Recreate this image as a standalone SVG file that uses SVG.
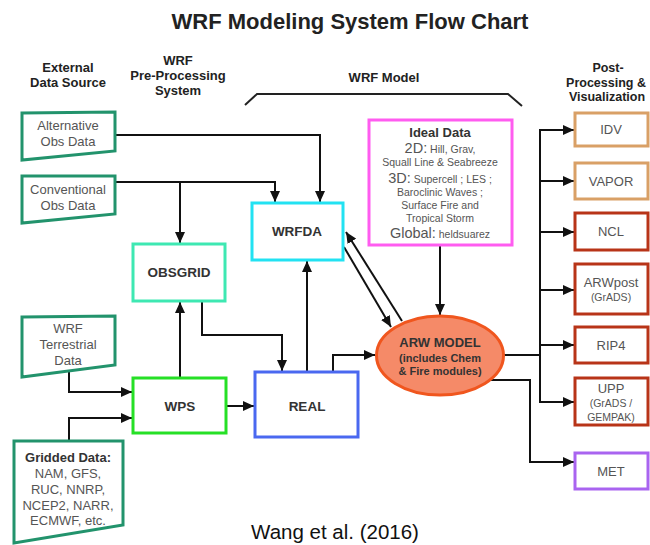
<svg xmlns="http://www.w3.org/2000/svg" width="650" height="545" viewBox="0 0 650 545">
<defs>
<style>
text{font-family:"Liberation Sans",Arial,sans-serif;text-anchor:middle}
.title{font-size:22px;font-weight:bold;fill:#222}
.hdr{font-size:13px;font-weight:bold;fill:#222}
.t{font-size:13px;fill:#555}
.b{font-size:13.5px;font-weight:bold;fill:#333}
.s{font-size:10.5px;fill:#555}
.big{font-size:14.5px;fill:#555}
.src{fill:#fff;stroke:#22936c;stroke-width:3}
.box{fill:#fff;stroke-width:3}
.con{fill:none;stroke:#111;stroke-width:2}
</style>
<marker id="ah" markerUnits="userSpaceOnUse" markerWidth="11" markerHeight="10" refX="11" refY="5" orient="auto">
<path d="M0,0 L11,5 L0,10 z" fill="#111"/>
</marker>
</defs>
<rect width="650" height="545" fill="#fff"/>
<text class="title" x="350" y="29">WRF Modeling System Flow Chart</text>
<g id="headers">
<text class="hdr" x="68" y="72">External</text>
<text class="hdr" x="68" y="87">Data Source</text>
<text class="hdr" x="178" y="65">WRF</text>
<text class="hdr" x="178" y="80">Pre-Processing</text>
<text class="hdr" x="178" y="95">System</text>
<text class="hdr" x="384" y="82">WRF Model</text>
<text class="hdr" x="608" y="72" style="font-size:12.5px">Post-</text>
<text class="hdr" x="606" y="87" style="font-size:12.5px">Processing &amp;</text>
<text class="hdr" x="607" y="101" style="font-size:12.5px">Visualization</text>
<path d="M245,105 L257,94 H508 L522,106" fill="none" stroke="#222" stroke-width="2"/>
</g>
<g id="connectors">
<path class="con" d="M115,135 H320 V202" marker-end="url(#ah)"/>
<path class="con" d="M115,182 H275 V202" marker-end="url(#ah)"/>
<path class="con" d="M180,182 V243" marker-end="url(#ah)"/>
<path class="con" d="M69,372 V392 H132" marker-end="url(#ah)"/>
<path class="con" d="M69,440 V418 H132" marker-end="url(#ah)"/>
<path class="con" d="M180,377 V302" marker-end="url(#ah)"/>
<path class="con" d="M202,302 V335 H282 V371" marker-end="url(#ah)"/>
<path class="con" d="M227,406 H254" marker-end="url(#ah)"/>
<path class="con" d="M307,371 V261" marker-end="url(#ah)"/>
<path class="con" d="M333,371 V355 H375" marker-end="url(#ah)"/>
<path class="con" d="M440,246 V315" marker-end="url(#ah)"/>
<path class="con" d="M402,321 L346,232" marker-end="url(#ah)"/>
<path class="con" d="M344,247 L391,327" marker-end="url(#ah)"/>
<path class="con" d="M504,355 H540"/>
<path class="con" d="M540,402 V130"/>
<path class="con" d="M539,130 H574" marker-end="url(#ah)"/>
<path class="con" d="M540,181 H574" marker-end="url(#ah)"/>
<path class="con" d="M540,232 H574" marker-end="url(#ah)"/>
<path class="con" d="M540,290 H574" marker-end="url(#ah)"/>
<path class="con" d="M540,345 H574" marker-end="url(#ah)"/>
<path class="con" d="M539,402 H574" marker-end="url(#ah)"/>
<path class="con" d="M490,380 H530 V462 H574" marker-end="url(#ah)"/>
</g>
<g id="alt-obs">
<polygon class="src" points="22,113 115,112 115,151 22,160"/>
<text class="t" x="68" y="130">Alternative</text>
<text class="t" x="68" y="146">Obs Data</text>
</g>
<g id="conv-obs">
<polygon class="src" points="22,176 115,176 115,214 22,223"/>
<text class="t" x="68" y="194">Conventional</text>
<text class="t" x="68" y="210">Obs Data</text>
</g>
<g id="terrestrial">
<polygon class="src" points="22,317 115,316 115,365 22,377"/>
<text class="t" x="68" y="333">WRF</text>
<text class="t" x="68" y="349">Terrestrial</text>
<text class="t" x="68" y="365">Data</text>
</g>
<g id="gridded">
<polygon class="src" points="14,441 123,441 123,525 14,543"/>
<text class="t" x="68" y="462" style="font-weight:bold;fill:#333">Gridded Data:</text>
<text class="t" x="68" y="478">NAM, GFS,</text>
<text class="t" x="68" y="494">RUC, NNRP,</text>
<text class="t" x="68" y="510">NCEP2, NARR,</text>
<text class="t" x="68" y="525">ECMWF, etc.</text>
</g>
<g id="obsgrid">
<rect class="box" x="133" y="244" width="92" height="57" stroke="#3ee8b2"/>
<text class="b" x="179" y="277">OBSGRID</text>
</g>
<g id="wps">
<rect class="box" x="133" y="378" width="93" height="55" stroke="#26e026"/>
<text class="b" x="180" y="411">WPS</text>
</g>
<g id="wrfda">
<rect class="box" x="252" y="203" width="91" height="57" stroke="#22e2f2"/>
<text class="b" x="297" y="236">WRFDA</text>
</g>
<g id="real">
<rect class="box" x="255" y="372" width="103" height="65" stroke="#4a68f0"/>
<text class="b" x="307" y="411">REAL</text>
</g>
<g id="ideal">
<rect class="box" x="369" y="120" width="143" height="125" stroke="#ff5cf0"/>
<text class="b" x="440" y="137" style="font-size:13px">Ideal Data</text>
<text class="s" x="440" y="153"><tspan class="big">2D:</tspan> Hill, Grav,</text>
<text class="s" x="440" y="166">Squall Line &amp; Seabreeze</text>
<text class="s" x="440" y="183"><tspan class="big">3D:</tspan> Supercell ; LES ;</text>
<text class="s" x="440" y="196">Baroclinic Waves ;</text>
<text class="s" x="440" y="209">Surface Fire and</text>
<text class="s" x="440" y="222">Tropical Storm</text>
<text class="s" x="440" y="238"><tspan class="big">Global:</tspan> heldsuarez</text>
</g>
<g id="arw">
<ellipse cx="440" cy="355.5" rx="63.5" ry="39.5" fill="#f58a68" stroke="#f0561e" stroke-width="3"/>
<text x="440" y="347" style="font-size:13px;font-weight:bold;fill:#333">ARW MODEL</text>
<text x="440" y="362" style="font-size:11px;font-weight:bold;fill:#333">(includes Chem</text>
<text x="440" y="375" style="font-size:11px;font-weight:bold;fill:#333">&amp; Fire modules)</text>
</g>
<g id="idv">
<rect class="box" x="575" y="113" width="73" height="33" stroke="#d9a066"/>
<text class="t" x="611" y="134">IDV</text>
</g>
<g id="vapor">
<rect class="box" x="575" y="163" width="73" height="36" stroke="#d9a066"/>
<text class="t" x="611" y="186">VAPOR</text>
</g>
<g id="ncl">
<rect class="box" x="575" y="213" width="73" height="37" stroke="#b83418"/>
<text class="t" x="611" y="236">NCL</text>
</g>
<g id="arwpost">
<rect class="box" x="575" y="264" width="73" height="50" stroke="#b83418"/>
<text class="t" x="611" y="287">ARWpost</text>
<text class="s" x="611" y="301">(GrADS)</text>
</g>
<g id="rip4">
<rect class="box" x="575" y="327" width="73" height="36" stroke="#b83418"/>
<text class="t" x="611" y="350">RIP4</text>
</g>
<g id="upp">
<rect class="box" x="575" y="378" width="73" height="47" stroke="#b83418"/>
<text class="t" x="611" y="393">UPP</text>
<text class="s" x="611" y="407">(GrADS /</text>
<text class="s" x="611" y="421">GEMPAK)</text>
</g>
<g id="met">
<rect class="box" x="575" y="453" width="73" height="36" stroke="#a964f0"/>
<text class="t" x="611" y="476">MET</text>
</g>
<text x="335" y="539" style="font-size:20.5px;fill:#111">Wang et al. (2016)</text>
</svg>
